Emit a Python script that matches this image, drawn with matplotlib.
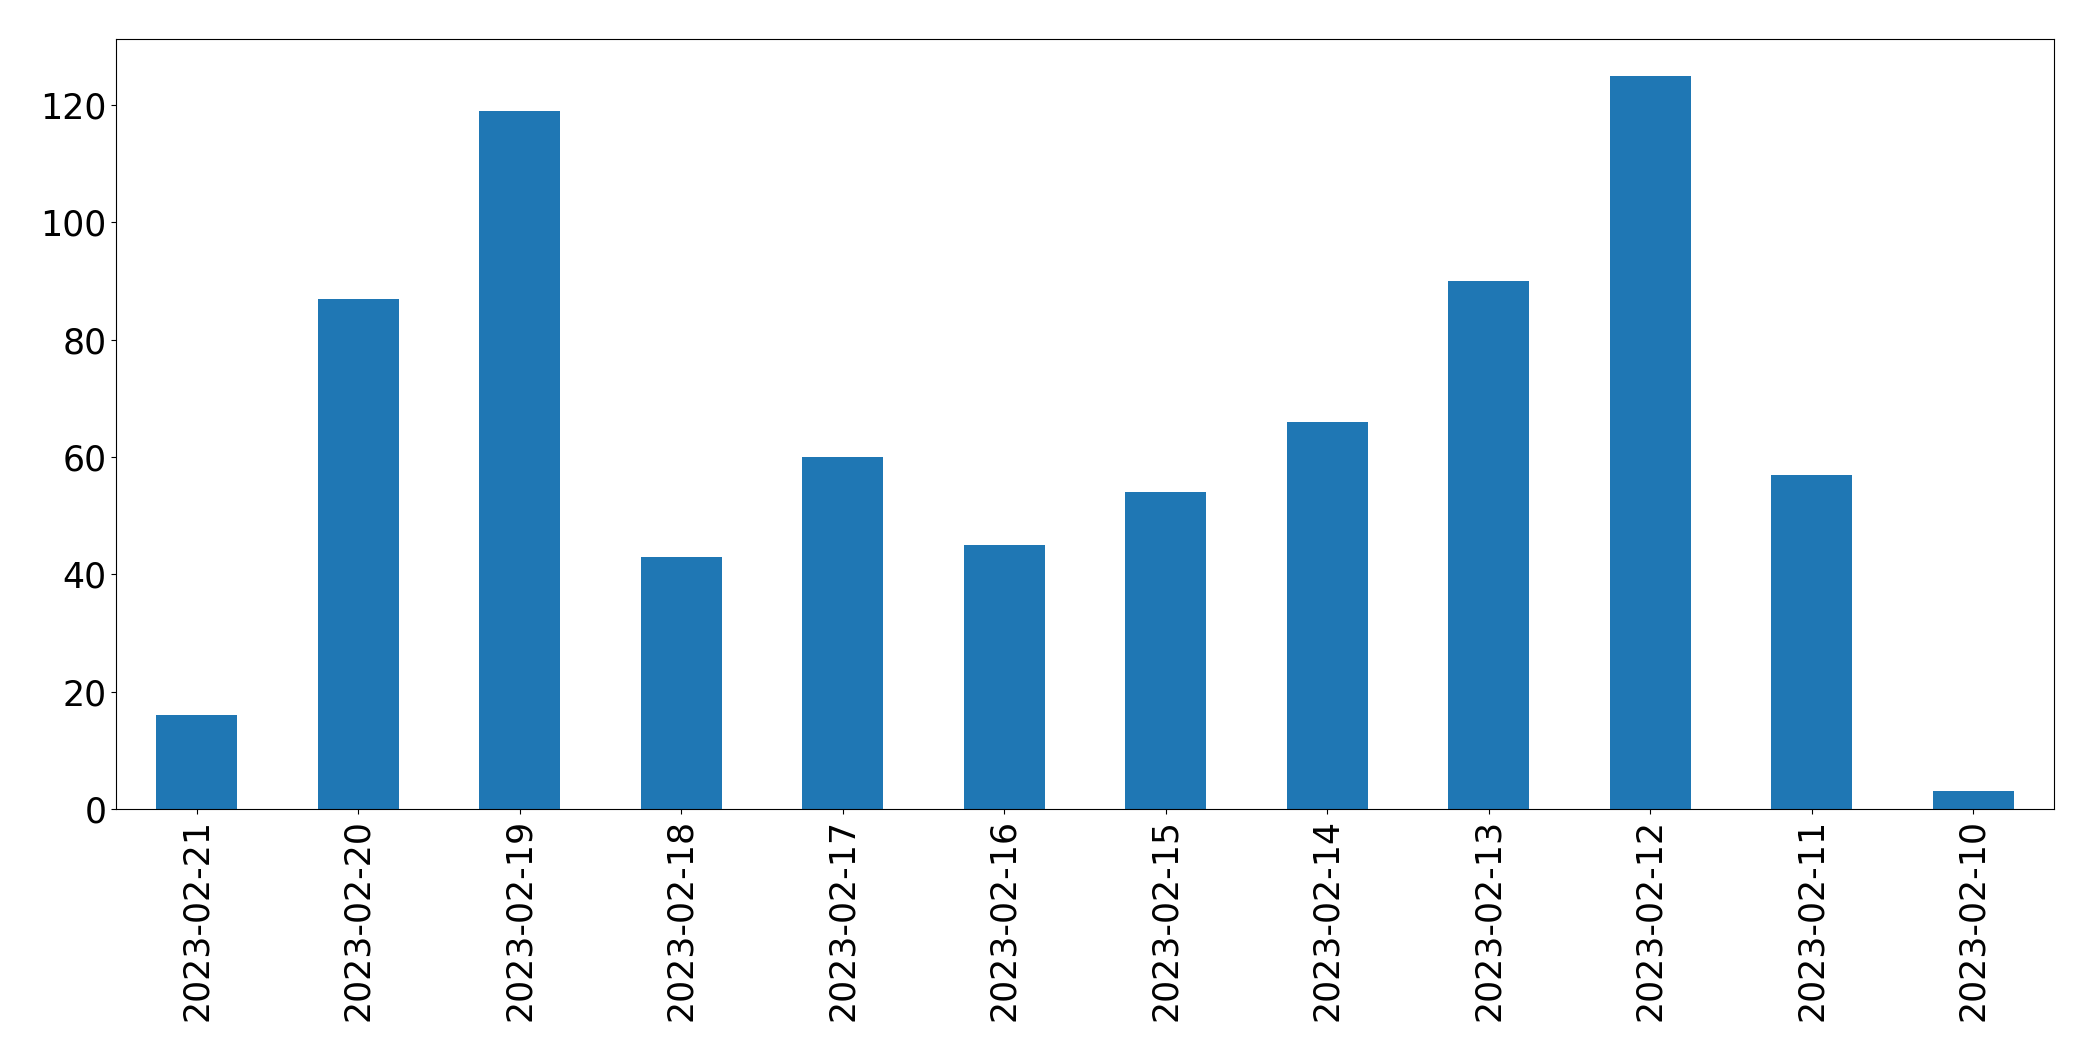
import matplotlib
matplotlib.use("Agg")
import matplotlib.pyplot as plt

dates = [
    "2023-02-21", "2023-02-20", "2023-02-19", "2023-02-18",
    "2023-02-17", "2023-02-16", "2023-02-15", "2023-02-14",
    "2023-02-13", "2023-02-12", "2023-02-11", "2023-02-10",
]
counts = [16, 87, 119, 43, 60, 45, 54, 66, 90, 125, 57, 3]


def main() -> None:
    fig, ax = plt.subplots(figsize=(20.93, 10.61), dpi=100)
    fig.subplots_adjust(left=116 / 2093, right=2054 / 2093, top=1 - 39 / 1061, bottom=1 - 809 / 1061)

    positions = range(len(dates))
    ax.bar(positions, counts, width=0.5, color="#1f77b4")
    ax.set_xticks(list(positions))
    ax.set_xticklabels(dates, rotation=90)
    ax.set_xlim(-0.5, len(dates) - 0.5)
    ax.set_ylim(0, max(counts) * 1.05)
    ax.tick_params(labelsize=25)

    fig.savefig("out.png", dpi=100)
    plt.close(fig)


if __name__ == "__main__":
    main()
